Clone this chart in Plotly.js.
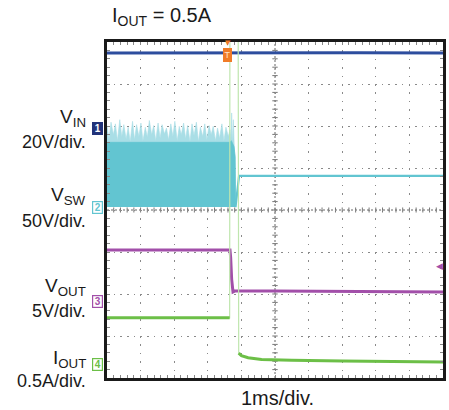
<!DOCTYPE html>
<html><head><meta charset="utf-8">
<script src="https://cdn.plot.ly/plotly-3.0.1.min.js"></script>
<style>html,body{margin:0;padding:0;background:#fff}#chart{width:449px;height:410px}</style>
</head><body><div id="chart"></div>
<script>
// ---- data (time in ms, 1 ms/div) ----
const vinT = [0, 2.5, 5, 7.5, 10];
const vinV = [35.7, 35.8, 35.7, 35.8, 35.7];            // V

const vswSpikeT = [0.00,0.06,0.12,0.19,0.25,0.31,0.38,0.44,0.50,0.57,
  0.63,0.69,0.76,0.82,0.88,0.95,1.01,1.07,1.14,1.20,
  1.26,1.33,1.39,1.45,1.52,1.58,1.64,1.71,1.77,1.83,
  1.90,1.96,2.02,2.09,2.15,2.21,2.28,2.34,2.40,2.47,
  2.53,2.59,2.66,2.72,2.78,2.85,2.91,2.97,3.04,3.10,
  3.16,3.23,3.29,3.35,3.42,3.48,3.54,3.61,3.66,
  3.69,3.71,3.735,3.76,3.79,3.815,3.825];
const vswSpikeV = [97,80,101,86,99,79,104,84,98,81,
  95,78,102,80,98,84,100,79,95,83,
  103,86,97,79,100,82,98,87,94,80,
  99,84,102,79,96,86,100,81,97,78,
  99,85,101,78,95,84,99,80,97,86,
  96,79,94,82,99,79,95,84,92,
  80,112,76,104,70,40,0];                                  // V (peak envelope)
const vswBodyT = [0, 3.66, 3.70, 3.78, 3.815, 3.825];
const vswBodyV = [77, 77, 79, 72, 60, 0];                 // V
const vswT = [3.825, 3.93, 5, 10];
const vswV = [0, 37, 37, 37];                            // V

const voutT = [0, 3.66, 3.68, 3.71, 3.75, 3.80, 5, 10];
const voutV = [6.1, 6.1, 5.2, 2.6, 1.1, 1.2, 1.2, 1.1];  // V

const ioutT = [0, 3.65, 3.66, 3.90, 3.92, 4.0, 4.2, 4.6, 5.5, 7, 10];
const ioutV = [0.55, 0.55, 5.0, 5.0, 0.13, 0.10, 0.075, 0.055, 0.045, 0.035, 0.025]; // A

const trigT = 3.6;
const vout_trigLevel = 4.2;

// ---- channel settings ----
const chScale  = [20, 50, 5, 0.5];              // units / div
const chGround = [1.952, 0.071, -2.17, -3.667]; // ground marker, divisions from centre
const chRange = i => [(-4 - chGround[i]) * chScale[i], (4 - chGround[i]) * chScale[i]];

const C_VIN = '#2d4d9e', C_SW = '#62c5d1', C_SWL = '#a9dee6',
      C_OUT = '#a24fa9', C_IO = '#6cbf47', C_IOL = '#bfe6ae';

const ioutThick = ioutV.map(v => v > chRange(3)[1] ? null : v);

const traces = [
  {x:vinT, y:vinV, yaxis:'y2', mode:'lines', line:{color:C_VIN, width:3}},
  {x:vswSpikeT, y:vswSpikeV, yaxis:'y3', mode:'lines', fill:'tozeroy',
   fillcolor:C_SWL, line:{color:C_SWL, width:0.6}},
  {x:vswBodyT, y:vswBodyV, yaxis:'y3', mode:'lines', fill:'tozeroy',
   fillcolor:C_SW, line:{color:C_SW, width:0.8}},
  {x:vswT, y:vswV, yaxis:'y3', mode:'lines', line:{color:C_SW, width:2.2}},
  {x:voutT, y:voutV, yaxis:'y4', mode:'lines', line:{color:C_OUT, width:3}},
  {x:ioutT, y:ioutV, yaxis:'y5', mode:'lines', line:{color:C_IOL, width:1.2}},
  {x:ioutT, y:ioutThick, yaxis:'y5', mode:'lines', connectgaps:false, line:{color:C_IO, width:3}}
].map(t => Object.assign({hoverinfo:'skip', showlegend:false}, t));

const FONT = 'Liberation Sans, Arial, Helvetica, sans-serif';

const layout = {
  width:449, height:410,
  margin:{l:107, r:6, t:42, b:32},
  paper_bgcolor:'#fff', plot_bgcolor:'#fff',
  font:{family:FONT, color:'#1a1a1a'},
  showlegend:false,
  xaxis:{range:[0,10], dtick:1, tick0:0, showgrid:true, gridcolor:'#8a8a8a', gridwidth:1,
    griddash:'1.5px,6.9px', showticklabels:false, ticks:'inside', ticklen:3, tickcolor:'#888',
    minor:{dtick:0.2, ticks:'inside', ticklen:3, tickcolor:'#888', showgrid:false},
    showline:true, linewidth:3, linecolor:'#1a1a1a', mirror:'ticks', zeroline:false},
  yaxis:{range:[-4,4], dtick:1, tick0:0, showgrid:true, gridcolor:'#8a8a8a', gridwidth:1,
    griddash:'1.5px,5.2px', showticklabels:false, ticks:'inside', ticklen:3, tickcolor:'#888',
    minor:{dtick:0.2, ticks:'inside', ticklen:3, tickcolor:'#888', showgrid:false},
    showline:true, linewidth:3, linecolor:'#1a1a1a', mirror:'ticks', zeroline:false},
  yaxis2:{overlaying:'y', visible:false, range:chRange(0)},
  yaxis3:{overlaying:'y', visible:false, range:chRange(1)},
  yaxis4:{overlaying:'y', visible:false, range:chRange(2)},
  yaxis5:{overlaying:'y', visible:false, range:chRange(3)},
  shapes:[
    {type:'line', xref:'x', yref:'paper', x0:5, x1:5, y0:0, y1:1, layer:'below',
     line:{color:'#666', width:1, dash:'2px,2px'}},
    {type:'line', xref:'paper', yref:'y', x0:0, x1:1, y0:0, y1:0, layer:'below',
     line:{color:'#666', width:1, dash:'2px,2px'}}
  ],
  annotations:[]
};

// graticule tick marks on the centre lines (every 0.2 div)
for (let k = 1; k < 50; k++) {
  const x = k * 0.2;
  layout.shapes.push({type:'line', xref:'x', yref:'y', x0:x, x1:x, y0:-0.06, y1:0.06, layer:'below',
    line:{color:'#777', width:1}});
}
for (let k = 1; k < 40; k++) {
  const y = -4 + k * 0.2;
  layout.shapes.push({type:'line', xref:'x', yref:'y', x0:4.92, x1:5.08, y0:y, y1:y, layer:'below',
    line:{color:'#777', width:1}});
}

const A = layout.annotations;
const lx = -0.0565;
function lab(text, y, size){ A.push({xref:'paper', yref:'paper', x:lx, y:y, xanchor:'right', yanchor:'middle',
  text:text, showarrow:false, align:'right', font:{size:size, color:'#1a1a1a'}}); }
lab('V<sub>IN</sub>', 0.775, 19);   lab('20V/div.', 0.701, 18);
lab('V<sub>SW</sub>', 0.541, 19);   lab('50V/div.', 0.467, 18);
lab('V<sub>OUT</sub>', 0.272, 19);  lab('5V/div.', 0.199, 18);
lab('I<sub>OUT</sub>', 0.058, 19);  lab('0.5A/div.', -0.010, 18);

A.push({xref:'paper', yref:'paper', x:0.506, y:-0.0595, xanchor:'center', yanchor:'middle',
  text:'1ms/div.', showarrow:false, font:{size:20, color:'#1a1a1a'}});
A.push({xref:'paper', yref:'paper', x:0.009, y:1.077, xanchor:'left', yanchor:'middle',
  text:'I<sub>OUT</sub> = 0.5A', showarrow:false, font:{size:20, color:'#1a1a1a'}});

// channel ground markers
const mk = [
  {ax:'y2', bg:'#22337a', bc:'#22337a', fc:'#ffffff', t:'1'},
  {ax:'y3', bg:'#ffffff', bc:C_SW, fc:C_SW, t:'2'},
  {ax:'y4', bg:'#ffffff', bc:C_OUT, fc:C_OUT, t:'3'},
  {ax:'y5', bg:'#ffffff', bc:C_IO, fc:C_IO, t:'4'}
];
mk.forEach(m => A.push({xref:'paper', yref:m.ax, x:-0.029, y:0, xanchor:'center', yanchor:'middle',
  text:'<b>'+m.t+'</b>', showarrow:false, bgcolor:m.bg, bordercolor:m.bc, borderwidth:1.2, borderpad:0,
  width:9, height:11, font:{size:10, color:m.fc}}));

// trigger markers
A.push({xref:'x', yref:'paper', x:trigT, y:0.962, xanchor:'center', yanchor:'middle', text:'T',
  showarrow:false, bgcolor:'#f07c28', bordercolor:'#f07c28', borderpad:0, width:7, height:12,
  font:{size:9, color:'#ffe3cc'}});
A.push({xref:'x', yref:'paper', x:trigT, y:0.997, xanchor:'center', yanchor:'middle', text:'▼',
  showarrow:false, font:{size:7, color:'#f07c28', family:'DejaVu Sans'}});
A.push({xref:'paper', yref:'y4', x:0.99, y:vout_trigLevel, xanchor:'center', yanchor:'middle', text:'◀',
  showarrow:false, font:{size:9, color:C_OUT, family:'DejaVu Sans'}});

Plotly.newPlot('chart', traces, layout, {staticPlot:true, displayModeBar:false});
</script></body></html>
